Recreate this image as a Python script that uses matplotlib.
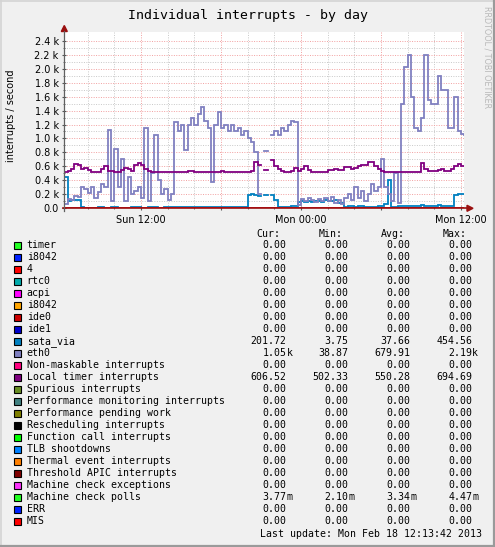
import numpy as np
import matplotlib
matplotlib.use("Agg")
import matplotlib.pyplot as plt
from matplotlib.patches import Rectangle, Polygon
from matplotlib.lines import Line2D

W, H = 495, 547
nan = np.nan

# muestras cada 15 min desde Dom 06:15 (horas desde Dom 00:00)
horas = 6.25 + 0.25 * np.arange(121)

eth0 = [60, 140, 120, 170, 160, 300, 280, 220, 300, 150,
        240, 350, 300, 1120, 100, 850, 300, 700, 100, 450,
        200, 250, 300, 150, 1150, 100, 500, 1050, 400, 200,
        280, 120, 200, 1230, 1100, 1200, 830, 1200, 1300, 1200,
        1350, 1450, 1250, 1150, 380, 1200, 1380, 1150, 1200, 1100,
        1200, 1100, 1150, 1050, 1100, 1000, 950, 800, 200, nan,
        820, nan, 1050, 1100, 1050, 1150, 1100, 1200, 1250, 1230,
        50, 130, 100, 150, 120, 90, 140, 110, 150, 100,
        160, 80, 120, 60, 150, 200, 120, 300, 150, 250,
        100, 200, 350, 250, 300, 700, 300, 200, 100, 500,
        80, 1500, 2030, 2190, 1600, 1150, 1100, 1300, 2190, 1550,
        1500, 1500, 1900, 1700, 1700, 1150, 1150, 1600, 1100, 1070,
        1050]

local_timer = [520, 530, 560, 640, 620, 570, 580, 550, 525, 525,
               525, 560, 600, 540, 530, 525, 525, 550, 580, 560,
               530, 620, 650, 620, 570, 530, 520, 525, 520, 520,
               525, 525, 520, 525, 520, 525, 520, 540, 530, 520,
               525, 520, 525, 520, 520, 520, 525, 530, 520, 520,
               525, 520, 520, 525, 520, 525, 530, 660, 620, nan,
               550, nan, 690, 600, 560, 530, 520, 525, 540, 580,
               540, 570, 600, 550, 520, 515, 520, 520, 515, 545,
               555, 570, 550, 550, 590, 595, 570, 575, 610, 620,
               620, 665, 670, 600, 560, 530, 520, 520, 520, 520,
               520, 520, 520, 520, 520, 520, 520, 650, 560, 540,
               540, 540, 545, 560, 540, 530, 570, 600, 640, 610,
               600]

sata_via = [450, 100, 120, 120, 120, 15, 10, 10, 10, 10,
            15, 15, 10, 10, 20, 15, 10, 10, 10, 10,
            15, 20, 15, 10, 10, 20, 25, 15, 10, 10,
            20, 15, 15, 20, 15, 20, 15, 20, 20, 15,
            20, 25, 20, 20, 15, 20, 20, 25, 20, 20,
            20, 20, 20, 20, 20, 190, 200, 190, 180, nan,
            190, nan, 190, 120, 20, 15, 15, 20, 30, 30,
            90, 100, 90, 100, 90, 110, 100, 90, 120, 110,
            110, 120, 70, 70, 20, 30, 40, 20, 30, 40,
            20, 25, 20, 20, 30, 30, 60, 400, 20, 25,
            30, 30, 30, 30, 30, 30, 40, 50, 40, 40,
            40, 40, 45, 40, 40, 40, 40, 190, 200, 200,
            200]

nombres = ["timer", "i8042", "4", "rtc0", "acpi", "i8042", "ide0", "ide1",
           "sata_via", "eth0", "Non-maskable interrupts", "Local timer interrupts",
           "Spurious interrupts", "Performance monitoring interrupts",
           "Performance pending work", "Rescheduling interrupts",
           "Function call interrupts", "TLB shootdowns", "Thermal event interrupts",
           "Threshold APIC interrupts", "Machine check exceptions",
           "Machine check polls", "ERR", "MIS"]
colores = ["#22ff22", "#0022ff", "#ff0000", "#00aaaa", "#ff00ff", "#ffa500",
           "#cc0000", "#0000cc", "#0080c0", "#8080c0", "#ff0080", "#800080",
           "#688e23", "#408080", "#808000", "#000000", "#00ff00", "#0080ff",
           "#ff8000", "#800000", "#fb31fb", "#22ff22", "#0022ff", "#ff0000"]

cur = ["0.00"] * 24
minimo = ["0.00"] * 24
media = ["0.00"] * 24
maximo = ["0.00"] * 24
for i, c, mi, a, ma in [(8, "201.72", "3.75", "37.66", "454.56"),
                        (9, "1.05k", "38.87", "679.91", "2.19k"),
                        (11, "606.52", "502.33", "550.28", "694.69"),
                        (21, "3.77m", "2.10m", "3.34m", "4.47m")]:
    cur[i], minimo[i], media[i], maximo[i] = c, mi, a, ma

series = {"sata_via": sata_via, "eth0": eth0, "Local timer interrupts": local_timer}

yticks = [0, 200, 400, 600, 800, 1000, 1200, 1400, 1600, 1800, 2000, 2200, 2400]
ytick_labels = ["0.0", "0.2 k", "0.4 k", "0.6 k", "0.8 k", "1.0 k", "1.2 k",
                "1.4 k", "1.6 k", "1.8 k", "2.0 k", "2.2 k", "2.4 k"]
xticks = [12, 18, 24, 30, 36]
xtick_labels = ["Sun 12:00", "", "Mon 00:00", "", "Mon 12:00"]


def fx(x):
    return x / W


def fy(y):
    return 1 - y / H


fig = plt.figure(figsize=(W / 100, H / 100), dpi=100, facecolor="#f0f0f0")

x0, x1 = 64.3, 464.3
y0, y1 = 208.3, 32.0
ax = fig.add_axes([fx(x0), fy(y0), (x1 - x0) / W, (y0 - y1) / H])
ax.set_facecolor("white")
ax.set_xlim(6.25, 36.25)
ax.set_ylim(0, 2525)

for s in ax.spines.values():
    s.set_visible(False)

ax.set_xticks(xticks)
ax.set_xticklabels(xtick_labels)
ax.set_xticks([8, 10, 14, 16, 20, 22, 26, 28, 32, 34], minor=True)
ax.set_yticks(yticks)
ax.set_yticklabels(ytick_labels)
ax.set_yticks(np.arange(100, 2500, 200), minor=True)

ax.grid(which="major", color="#f2a0a0", linestyle=(0, (1, 1.5)), linewidth=0.7)
ax.grid(which="minor", color="#c8c8c8", linestyle=(0, (1, 1.5)), linewidth=0.7)
ax.set_axisbelow(True)
ax.tick_params(which="both", labelsize=7, color="#555555", direction="inout")
ax.tick_params(axis="x", which="major", length=3, pad=3)
ax.tick_params(axis="y", which="major", length=3, pad=2.5)
ax.tick_params(which="minor", length=2)

# dibujar series en orden (las nulas quedan sobre el eje)
for nombre, color in zip(nombres, colores):
    if nombre in series:
        vals = series[nombre]
    else:
        vals = np.zeros(len(horas))
    ax.plot(horas, vals, drawstyle="steps-post", color=color, linewidth=1.3,
            solid_joinstyle="miter", zorder=3)

# ejes con flechas al estilo rrdtool
fig.add_artist(Line2D([fx(63), fx(468)], [fy(y0), fy(y0)], color="#9a1010", lw=1.2))
fig.add_artist(Polygon([[fx(473), fy(y0)], [fx(467), fy(y0 - 3)], [fx(467), fy(y0 + 3)]],
                       closed=True, color="#9a1010", transform=fig.transFigure))
fig.add_artist(Line2D([fx(x0), fx(x0)], [fy(211), fy(31)], color="#606060", lw=0.9))
fig.add_artist(Polygon([[fx(x0), fy(25.5)], [fx(x0 - 3), fy(31.5)], [fx(x0 + 3), fy(31.5)]],
                       closed=True, color="#9a1010", transform=fig.transFigure))

mono = "DejaVu Sans Mono"
fig.text(fx(247.5), fy(19), "Individual interrupts - by day", family=mono,
         fontsize=9.5, ha="center", va="baseline")
fig.text(fx(11), fy(116), "interrupts / second", fontsize=7, rotation=90,
         ha="center", va="center")
fig.text(fx(486.5), fy(57), "RRDTOOL / TOBI OETIKER", fontsize=5.8, rotation=270,
         ha="center", va="center", color="#b8b8b8")

# leyenda
fs = 7.1
for txt, xl in [("Cur:", 256.5), ("Min:", 318.5), ("Avg:", 380.5), ("Max:", 442.5)]:
    fig.text(fx(xl), fy(236.7), txt, family=mono, fontsize=fs, va="baseline")

cols = [(cur, 286.5), (minimo, 348.5), (media, 410.3), (maximo, 472.2)]
for k, (nombre, color) in enumerate(zip(nombres, colores)):
    yc = 245.3 + 12 * k
    fig.add_artist(Rectangle((fx(13.5), fy(yc + 3.6)), 7.2 / W, 7.2 / H,
                             facecolor=color, edgecolor="black", linewidth=0.8,
                             transform=fig.transFigure))
    fig.text(fx(26.7), fy(yc + 3), nombre, family=mono, fontsize=fs, va="baseline")
    for lista, xr in cols:
        v = lista[k]
        suf = v[-1] if v[-1].isalpha() else ""
        num = v[:-1] if suf else v
        fig.text(fx(xr), fy(yc + 3), num, family=mono, fontsize=fs,
                 ha="right", va="baseline")
        if suf:
            fig.text(fx(xr), fy(yc + 3), suf, family=mono, fontsize=fs,
                     ha="left", va="baseline")

fig.text(fx(481.5), fy(536.7), "Last update: Mon Feb 18 12:13:42 2013", family=mono,
         fontsize=fs, ha="right", va="baseline")

# marco
fig.add_artist(Line2D([0, 1], [fy(0.5), fy(0.5)], color="#d4d4d4", lw=1.2))
fig.add_artist(Line2D([fx(0.5), fx(0.5)], [0, 1], color="#d4d4d4", lw=1.2))
fig.add_artist(Line2D([0, 1], [fy(546), fy(546)], color="#9a9a9a", lw=1.6))
fig.add_artist(Line2D([fx(494), fx(494)], [0, 1], color="#9a9a9a", lw=1.6))

fig.savefig("out.png", dpi=100, facecolor=fig.get_facecolor())
